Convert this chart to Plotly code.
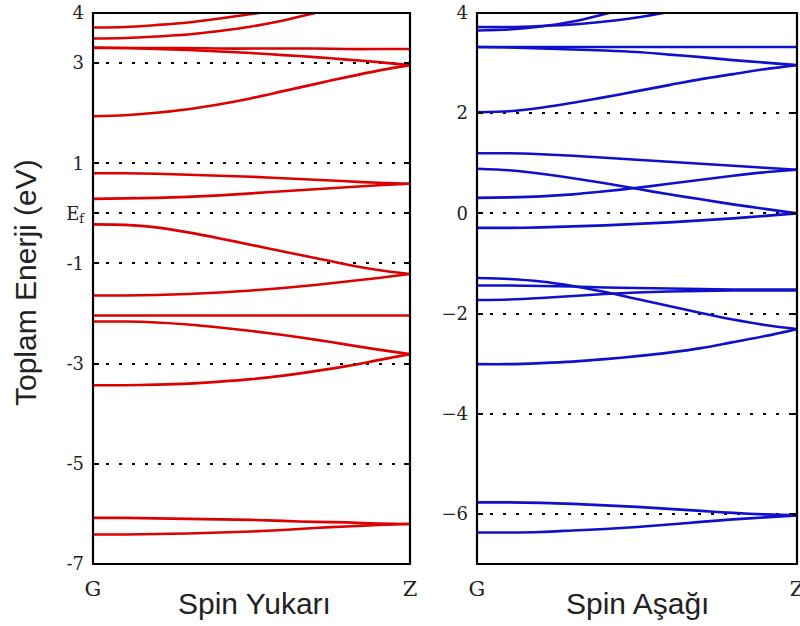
import plotly.graph_objects as go

# k-path from G (0) to Z (1)
k_points = [0.0, 0.1, 0.2, 0.3, 0.4, 0.5, 0.6, 0.7, 0.8, 0.9, 1.0]

# Spin up bands (eV)
up_b1 = [3.71, 3.72, 3.76, 3.81, 3.89, 3.98, 4.08, 4.20, 4.33, 4.47, 4.60]
up_b2 = [3.49, 3.50, 3.53, 3.57, 3.64, 3.73, 3.85, 4.00, 4.15, 4.30, 4.45]
up_b3 = [3.30, 3.30, 3.30, 3.30, 3.29, 3.29, 3.29, 3.29, 3.28, 3.28, 3.28]
up_b4 = [3.31, 3.30, 3.28, 3.26, 3.23, 3.20, 3.16, 3.12, 3.07, 3.02, 2.96]
up_b5 = [1.94, 1.96, 2.01, 2.08, 2.18, 2.30, 2.44, 2.58, 2.72, 2.85, 2.96]
up_b6 = [0.80, 0.80, 0.79, 0.77, 0.75, 0.73, 0.70, 0.67, 0.64, 0.61, 0.59]
up_b7 = [0.29, 0.30, 0.31, 0.33, 0.36, 0.40, 0.44, 0.48, 0.52, 0.56, 0.59]
up_b8 = [-0.22, -0.23, -0.28, -0.38, -0.50, -0.63, -0.76, -0.89, -1.02, -1.13, -1.21]
up_b9 = [-1.64, -1.64, -1.63, -1.61, -1.58, -1.54, -1.49, -1.43, -1.36, -1.29, -1.21]
up_b10 = [-2.04, -2.04, -2.04, -2.04, -2.04, -2.04, -2.04, -2.04, -2.04, -2.04, -2.04]
up_b11 = [-2.16, -2.16, -2.18, -2.22, -2.28, -2.35, -2.43, -2.52, -2.62, -2.72, -2.81]
up_b12 = [-3.43, -3.43, -3.42, -3.40, -3.36, -3.31, -3.24, -3.15, -3.05, -2.93, -2.81]
up_b13 = [-6.08, -6.08, -6.09, -6.10, -6.11, -6.12, -6.14, -6.16, -6.17, -6.19, -6.20]
up_b14 = [-6.41, -6.41, -6.40, -6.39, -6.37, -6.35, -6.32, -6.28, -6.25, -6.22, -6.20]

# Spin down bands (eV)
dn_b1 = [3.65, 3.67, 3.73, 3.83, 3.98, 4.14, 4.30, 4.46, 4.62, 4.78, 4.94]
dn_b2 = [3.72, 3.72, 3.74, 3.77, 3.83, 3.91, 4.02, 4.14, 4.27, 4.40, 4.53]
dn_b3 = [3.32, 3.32, 3.32, 3.32, 3.32, 3.32, 3.32, 3.32, 3.32, 3.32, 3.32]
dn_b4 = [3.32, 3.31, 3.29, 3.27, 3.25, 3.22, 3.17, 3.12, 3.06, 3.01, 2.96]
dn_b5 = [2.02, 2.04, 2.11, 2.21, 2.32, 2.44, 2.56, 2.68, 2.78, 2.88, 2.96]
dn_b6 = [1.20, 1.20, 1.18, 1.15, 1.11, 1.07, 1.03, 0.99, 0.95, 0.91, 0.87]
dn_b7 = [0.89, 0.86, 0.79, 0.70, 0.60, 0.49, 0.38, 0.28, 0.18, 0.09, 0.00]
dn_b8 = [0.31, 0.32, 0.34, 0.38, 0.44, 0.51, 0.59, 0.67, 0.75, 0.82, 0.87]
dn_b9 = [-0.29, -0.29, -0.28, -0.26, -0.24, -0.21, -0.18, -0.14, -0.10, -0.05, 0.00]
dn_b10 = [-1.29, -1.31, -1.36, -1.45, -1.57, -1.71, -1.85, -1.99, -2.12, -2.23, -2.31]
dn_b11 = [-1.44, -1.44, -1.45, -1.46, -1.48, -1.49, -1.50, -1.51, -1.52, -1.52, -1.52]
dn_b12 = [-1.73, -1.72, -1.69, -1.65, -1.61, -1.58, -1.56, -1.55, -1.54, -1.54, -1.54]
dn_b13 = [-3.01, -3.01, -2.99, -2.96, -2.91, -2.85, -2.78, -2.69, -2.57, -2.45, -2.31]
dn_b14 = [-5.77, -5.77, -5.78, -5.80, -5.83, -5.86, -5.90, -5.94, -5.98, -6.01, -6.03]
dn_b15 = [-6.37, -6.37, -6.36, -6.33, -6.30, -6.26, -6.21, -6.16, -6.11, -6.07, -6.03]

up_bands = [up_b1, up_b2, up_b3, up_b4, up_b5, up_b6, up_b7, up_b8, up_b9,
            up_b10, up_b11, up_b12, up_b13, up_b14]
dn_bands = [dn_b1, dn_b2, dn_b3, dn_b4, dn_b5, dn_b6, dn_b7, dn_b8, dn_b9,
            dn_b10, dn_b11, dn_b12, dn_b13, dn_b14, dn_b15]

# Tick labels
x_tickvals = [0, 1]
x_ticktext = ["G", "Z"]
up_tickvals = [4, 3, 1, 0, -1, -3, -5, -7]
up_ticktext = ["4", "3", "1", "E<sub>f</sub>", "-1", "-3", "-5", "-7"]
dn_tickvals = [4, 2, 0, -2, -4, -6]
dn_ticktext = ["4", "2", "0", "\u22122", "\u22124", "\u22126"]

up_title = "Spin Yukarı"
dn_title = "Spin Aşağı"
y_title = "Toplam Enerji (eV)"

RED = "#dd0000"
BLUE = "#1010cc"

fig = go.Figure()
for b in up_bands:
    fig.add_trace(go.Scatter(x=k_points, y=b, mode="lines", xaxis="x", yaxis="y",
                             line=dict(color=RED, width=2.6, shape="spline", smoothing=0.8),
                             showlegend=False, hoverinfo="skip"))
for b in dn_bands:
    fig.add_trace(go.Scatter(x=k_points, y=b, mode="lines", xaxis="x2", yaxis="y2",
                             line=dict(color=BLUE, width=2.6, shape="spline", smoothing=0.8),
                             showlegend=False, hoverinfo="skip"))

FW, FH = 800, 626
def px_x(p):
    return p / FW
def px_y(p):
    return 1 - p / FH

L1, R1 = 93, 410
L2, R2 = 477, 797
TOP, BOT = 13, 564

serif = "DejaVu Serif, Liberation Serif, serif"
sans = "Liberation Sans, Arial, sans-serif"

common_x = dict(range=[0, 1], tickvals=x_tickvals, ticktext=x_ticktext,
                showgrid=False, zeroline=False, showline=False, automargin=False,
                ticks="", ticklabelstandoff=10, ticklabeloverflow="allow",
                tickfont=dict(family=serif, size=21, color="#222"))
common_y = dict(range=[-7, 4], showgrid=True, gridcolor="black", griddash="3px,10px",
                gridwidth=1.6, zeroline=False, showline=False, automargin=False,
                mirror="allticks", ticks="inside", ticklen=6, ticklabeloverflow="allow",
                tickwidth=1.6, tickcolor="black", ticklabelstandoff=8,
                tickfont=dict(family=serif, size=18, color="#222"))

frame_line = dict(color="black", width=2.2)

fig.update_layout(
    width=FW, height=FH,
    margin=dict(l=0, r=0, t=0, b=0, autoexpand=False),
    paper_bgcolor="white", plot_bgcolor="white",
    xaxis=dict(domain=[px_x(L1), px_x(R1)], anchor="y", **common_x),
    yaxis=dict(domain=[px_y(BOT), px_y(TOP)], anchor="x",
               tickvals=up_tickvals, ticktext=up_ticktext, **common_y),
    xaxis2=dict(domain=[px_x(L2), px_x(R2)], anchor="y2", **common_x),
    yaxis2=dict(domain=[px_y(BOT), px_y(TOP)], anchor="x2",
                tickvals=dn_tickvals, ticktext=dn_ticktext, **common_y),
    shapes=[
        dict(type="rect", xref="paper", yref="paper",
             x0=px_x(L1), x1=px_x(R1), y0=px_y(BOT), y1=px_y(TOP),
             line=frame_line, layer="above"),
        dict(type="rect", xref="paper", yref="paper",
             x0=px_x(L2), x1=px_x(R2), y0=px_y(BOT), y1=px_y(TOP),
             line=frame_line, layer="above"),
    ],
    annotations=[
        dict(text=up_title, xref="paper", yref="paper", x=px_x(255), y=px_y(603),
             xanchor="center", yanchor="middle", showarrow=False,
             font=dict(family=sans, size=30, color="#222")),
        dict(text=dn_title, xref="paper", yref="paper", x=px_x(637), y=px_y(603),
             xanchor="center", yanchor="middle", showarrow=False,
             font=dict(family=sans, size=30, color="#222")),
        dict(text=y_title, xref="paper", yref="paper", x=px_x(26), y=px_y(283),
             xanchor="center", yanchor="middle", showarrow=False, textangle=-90,
             font=dict(family=sans, size=30, color="#222")),
    ],
)

# remove the default 8px body margin so the figure fills the 800x626 window
fig.write_html("out.html", config={"displayModeBar": False},
               post_script="document.body.style.margin='0px';document.body.style.overflow='hidden';")
